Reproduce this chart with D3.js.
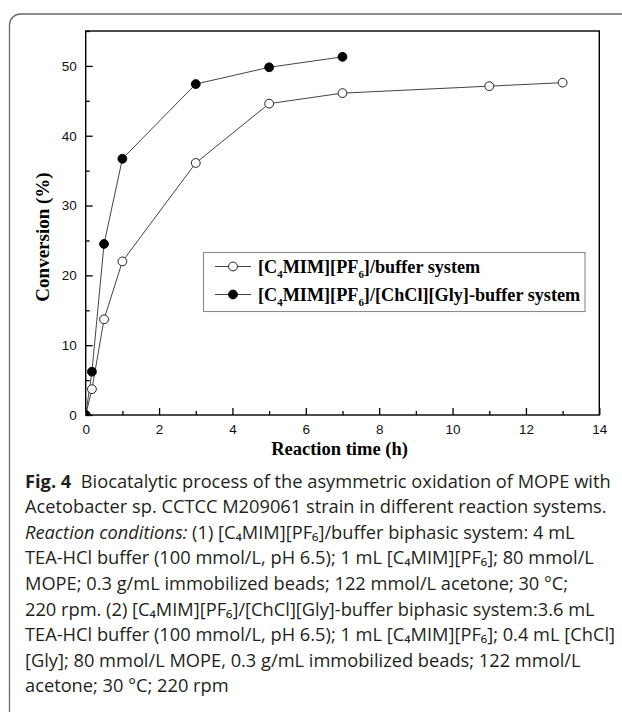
<!DOCTYPE html>
<html>
<head>
<meta charset="utf-8">
<script src="https://cdn.jsdelivr.net/npm/d3@7"></script>
<style>
  html, body { margin: 0; padding: 0; background: #fff; }
  svg { display: block; }
</style>
</head>
<body>
<svg id="chart" width="622" height="712"></svg>
<script>
// ---- data ----
const timeIL = [0, 0.17, 0.5, 1, 3, 5, 7, 11, 13];
const convIL = [0, 3.7, 13.7, 22.0, 36.1, 44.6, 46.1, 47.1, 47.6];
const timeDES = [0, 0.17, 0.5, 1, 3, 5, 7];
const convDES = [0, 6.2, 24.5, 36.7, 47.4, 49.8, 51.3];
const xMajorTicks = [0, 2, 4, 6, 8, 10, 12, 14];
const xMinorTicks = [1, 3, 5, 7, 9, 11, 13];
const yMajorTicks = [0, 10, 20, 30, 40, 50];
const yMinorTicks = [5, 15, 25, 35, 45, 55];
const xTitle = "Reaction time (h)";
const yTitle = "Conversion (%)";
const legendLabels = [
  [["[C", ""], ["4", "sub"], ["MIM][PF", ""], ["6", "sub"], ["]/buffer system", ""]],
  [["[C", ""], ["4", "sub"], ["MIM][PF", ""], ["6", "sub"], ["]/[ChCl][Gly]-buffer system", ""]]
];
// caption lines: segments [text, style]; style: b=bold, i=italic
const captionLines = [
  [["Fig. 4", "b"], ["\u00a0 Biocatalytic process of the asymmetric oxidation of MOPE with", ""]],
  [["Acetobacter sp. CCTCC M209061 strain in different reaction systems.", ""]],
  [["Reaction conditions:", "i"], [" (1) [C\u2084MIM][PF\u2086]/buffer biphasic system: 4 mL", ""]],
  [["TEA-HCl buffer (100 mmol/L, pH 6.5); 1 mL [C\u2084MIM][PF\u2086]; 80 mmol/L", ""]],
  [["MOPE; 0.3 g/mL immobilized beads; 122 mmol/L acetone; 30 \u00b0C;", ""]],
  [["220 rpm. (2) [C\u2084MIM][PF\u2086]/[ChCl][Gly]-buffer biphasic system:3.6 mL", ""]],
  [["TEA-HCl buffer (100 mmol/L, pH 6.5); 1 mL [C\u2084MIM][PF\u2086]; 0.4 mL [ChCl]", ""]],
  [["[Gly]; 80 mmol/L MOPE, 0.3 g/mL immobilized beads; 122 mmol/L", ""]],
  [["acetone; 30 \u00b0C; 220 rpm", ""]]
];

// ---- layout ----
const svg = d3.select("#chart");
const plot = { left: 85.7, right: 599.3, top: 31, bottom: 415 };
const x = d3.scaleLinear().domain([0, 14]).range([plot.left, plot.right]);
const y = d3.scaleLinear().domain([0, 55]).range([plot.bottom, plot.top]);

// outer frame (rounded top-left corner, running off right and bottom)
svg.append("path")
  .attr("d", "M9.5,712 V25 A11,11 0 0 1 20.5,14 H622")
  .attr("fill", "none").attr("stroke", "#6a6a6a").attr("stroke-width", 1.3);

const tickFont = "'Liberation Sans', Arial, sans-serif";
const serif = "'Liberation Serif', 'Times New Roman', serif";

// rich text helper (bold / italic / subscript runs)
function richText(t, segs, size, subRatio, subShift) {
  let prevSub = false;
  segs.forEach(([s, st]) => {
    const ts = t.append("tspan").text(s);
    if (st === "b") ts.attr("font-weight", "bold");
    if (st === "i") ts.attr("font-style", "italic");
    if (st === "sub") {
      ts.attr("font-size", size * subRatio).attr("dy", subShift);
      prevSub = true;
    } else if (prevSub) {
      ts.attr("dy", -subShift);
      prevSub = false;
    }
  });
}

// axes
function styleAxis(g) {
  g.select(".domain").remove();
  g.selectAll(".tick line").attr("stroke", "#000").attr("stroke-width", 1.3);
  g.selectAll(".tick text").attr("font-family", tickFont).attr("font-size", 13.5).attr("fill", "#111");
}
svg.append("g").attr("transform", `translate(0,${plot.bottom})`)
  .call(d3.axisBottom(x).tickValues(xMajorTicks).tickSize(-7).tickPadding(9).tickFormat(d3.format("d")))
  .call(styleAxis);
svg.append("g").attr("transform", `translate(0,${plot.bottom})`)
  .call(d3.axisBottom(x).tickValues(xMinorTicks).tickSize(-4).tickFormat(""))
  .call(styleAxis);
svg.append("g").attr("transform", `translate(${plot.left},0)`)
  .call(d3.axisLeft(y).tickValues(yMajorTicks).tickSize(-7).tickPadding(9).tickFormat(d3.format("d")))
  .call(styleAxis);
svg.append("g").attr("transform", `translate(${plot.left},0)`)
  .call(d3.axisLeft(y).tickValues(yMinorTicks).tickSize(-4).tickFormat(""))
  .call(styleAxis);

// plot box
svg.append("rect")
  .attr("x", plot.left).attr("y", plot.top)
  .attr("width", plot.right - plot.left).attr("height", plot.bottom - plot.top)
  .attr("fill", "none").attr("stroke", "#000").attr("stroke-width", 1.4);

// clip for markers
svg.append("clipPath").attr("id", "plotclip").append("rect")
  .attr("x", plot.left).attr("y", plot.top)
  .attr("width", plot.right - plot.left).attr("height", plot.bottom - plot.top);

const line = d3.line().x(d => x(d[0])).y(d => y(d[1]));
const ilData = timeIL.map((t, i) => [t, convIL[i]]);
const desData = timeDES.map((t, i) => [t, convDES[i]]);
const markerR = 4.4;

const gData = svg.append("g").attr("clip-path", "url(#plotclip)");
gData.append("path").datum(ilData).attr("d", line)
  .attr("fill", "none").attr("stroke", "#444").attr("stroke-width", 1);
gData.append("path").datum(desData).attr("d", line)
  .attr("fill", "none").attr("stroke", "#444").attr("stroke-width", 1);
gData.selectAll("circle.il").data(ilData).join("circle").attr("class", "il")
  .attr("cx", d => x(d[0])).attr("cy", d => y(d[1])).attr("r", markerR)
  .attr("fill", "#fff").attr("stroke", "#222").attr("stroke-width", 1);
gData.selectAll("circle.des").data(desData).join("circle").attr("class", "des")
  .attr("cx", d => x(d[0])).attr("cy", d => y(d[1])).attr("r", markerR)
  .attr("fill", "#000").attr("stroke", "#000").attr("stroke-width", 1);

// axis titles
svg.append("text")
  .attr("x", (plot.left + plot.right) / 2 - 3).attr("y", 455)
  .attr("text-anchor", "middle")
  .attr("font-family", serif).attr("font-weight", "bold").attr("font-size", 18.5)
  .attr("fill", "#000").text(xTitle);
svg.append("text")
  .attr("transform", `translate(48.5,${(plot.top + plot.bottom) / 2 + 14}) rotate(-90)`)
  .attr("text-anchor", "middle")
  .attr("font-family", serif).attr("font-weight", "bold").attr("font-size", 19)
  .attr("fill", "#000").text(yTitle);

// legend
const leg = { x: 203.5, y: 252.5, w: 381.5, h: 59 };
svg.append("rect").attr("x", leg.x).attr("y", leg.y).attr("width", leg.w).attr("height", leg.h)
  .attr("fill", "#fff").attr("stroke", "#8a8a8a").attr("stroke-width", 1.1);
const legRows = [leg.y + 14, leg.y + 42];
legendLabels.forEach((segs, i) => {
  const cy = legRows[i];
  svg.append("line").attr("x1", 215).attr("x2", 251).attr("y1", cy).attr("y2", cy)
    .attr("stroke", "#444").attr("stroke-width", 1);
  svg.append("circle").attr("cx", 233).attr("cy", cy).attr("r", markerR)
    .attr("fill", i === 0 ? "#fff" : "#000").attr("stroke", i === 0 ? "#222" : "#000").attr("stroke-width", 1);
  const t = svg.append("text").attr("x", 258).attr("y", cy + 6)
    .attr("font-family", serif).attr("font-weight", "bold").attr("font-size", 18.2).attr("fill", "#000");
  richText(t, segs, 18.2, 0.6, 5);
});

// caption
const capFont = "'Open Sans', 'Noto Sans', 'DejaVu Sans', sans-serif";
const capX = 25, capY0 = 487.5, capDY = 25.6;
function drawCaption(size) {
  svg.selectAll("text.cap").remove();
  captionLines.forEach((segs, li) => {
    const t = svg.append("text").attr("class", "cap")
      .attr("x", capX).attr("y", capY0 + li * capDY)
      .attr("font-family", capFont).attr("font-size", size).attr("fill", "#231f20");
    richText(t, segs, size, 0.7, 0);
  });
}
let capSize = 16;
drawCaption(capSize);
const w1 = svg.select("text.cap").node().getComputedTextLength();
capSize = capSize * 586 / w1;
drawCaption(capSize);
</script>
</body>
</html>
